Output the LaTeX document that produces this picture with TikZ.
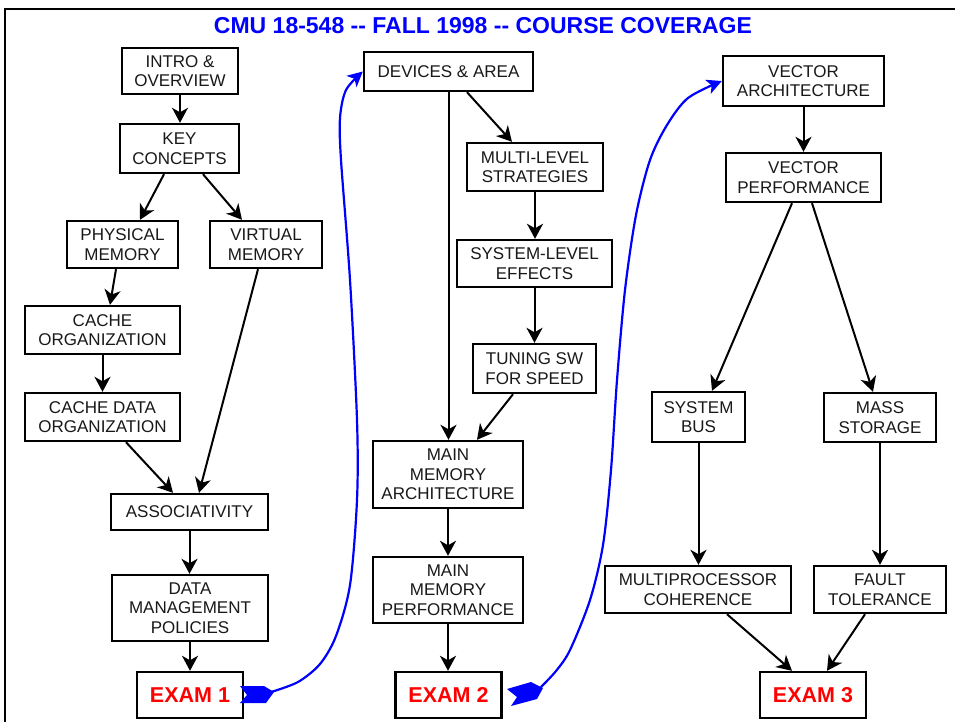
\documentclass[tikz,border=0pt]{standalone}
\usepackage{fontspec}
\setmainfont{Liberation Sans}
\usetikzlibrary{arrows.meta}
\definecolor{pblue}{RGB}{0,0,255}
\definecolor{pred}{RGB}{255,0,0}
\begin{document}
\begin{tikzpicture}[x=1pt,y=-1pt,
  box/.style={draw, line width=2.4pt, inner sep=0pt, align=center,
    font=\fontsize{17}{19.5}\selectfont, text=black!90},
  exam/.style={draw, line width=2.4pt, inner sep=0pt, minimum width=106pt,
    minimum height=46pt, font=\bfseries\fontsize{21.5}{24}\selectfont, text=pred},
  arr/.style={line width=2pt, -{Stealth[length=15pt,width=16pt,inset=4.5pt]}},
  bl/.style={pblue, line width=2.2pt, -{Stealth[length=15pt,width=15pt,inset=4pt]}},
  frame/.style={line width=2pt},
]
\useasboundingbox (0,0) rectangle (955,721);
\clip (0,0) rectangle (955,721);
\fill[white] (0,0) rectangle (955,721);
\draw[frame] (5,760) -- (5,9) -- (1000,9);

\node[font=\bfseries\fontsize{23}{26}\selectfont, text=pblue, anchor=base] (title) at (483,33)
  {CMU 18-548 -{}- FALL 1998 -{}- COURSE COVERAGE};

% left column
\node[box, minimum width=116pt, minimum height=46pt] (intro) at (180,71) {INTRO \&\\OVERVIEW};
\node[box, minimum width=119pt, minimum height=49pt] (key) at (179.5,148.5) {KEY\\CONCEPTS};
\node[box, minimum width=111pt, minimum height=47pt] (phys) at (122.5,244.5) {PHYSICAL\\MEMORY};
\node[box, minimum width=112pt, minimum height=47pt] (virt) at (266,244.5) {VIRTUAL\\MEMORY};
\node[box, minimum width=155pt, minimum height=48pt] (corg) at (102.5,330) {CACHE\\ORGANIZATION};
\node[box, minimum width=155pt, minimum height=48pt] (cdata) at (102.5,417) {CACHE DATA\\ORGANIZATION};
\node[box, minimum width=157pt, minimum height=36pt] (assoc) at (189.5,512) {ASSOCIATIVITY};
\node[box, minimum width=156pt, minimum height=66pt] (dmp) at (190,608) {DATA\\MANAGEMENT\\POLICIES};
\node[exam] (exam1) at (190,695) {EXAM 1};

% middle column
\node[box, minimum width=169pt, minimum height=39pt] (dev) at (448.5,71.5) {DEVICES \& AREA};
\node[box, minimum width=136pt, minimum height=48pt] (multi) at (535,167) {MULTI-LEVEL\\STRATEGIES};
\node[box, minimum width=155pt, minimum height=47pt] (syslev) at (534.5,263.5) {SYSTEM-LEVEL\\EFFECTS};
\node[box, minimum width=123pt, minimum height=49pt] (tune) at (534.5,368.5) {TUNING SW\\FOR SPEED};
\node[box, minimum width=150pt, minimum height=67pt] (march) at (448,474.5) {MAIN\\MEMORY\\ARCHITECTURE};
\node[box, minimum width=150pt, minimum height=66pt] (mperf) at (448,590) {MAIN\\MEMORY\\PERFORMANCE};
\node[exam] (exam2) at (448.5,695) {EXAM 2};

% right column
\node[box, minimum width=161pt, minimum height=50pt] (varch) at (803.5,81) {VECTOR\\ARCHITECTURE};
\node[box, minimum width=155pt, minimum height=49pt] (vperf) at (803.5,177.5) {VECTOR\\PERFORMANCE};
\node[box, minimum width=93pt, minimum height=50pt] (sbus) at (698.5,417) {SYSTEM\\BUS};
\node[box, minimum width=112pt, minimum height=49pt] (mass) at (880,417.5) {MASS\\STORAGE};
\node[box, minimum width=186pt, minimum height=47pt] (mproc) at (698,589.5) {MULTIPROCESSOR\\COHERENCE};
\node[box, minimum width=132pt, minimum height=47pt] (fault) at (880,589.5) {FAULT\\TOLERANCE};
\node[exam] (exam3) at (813,695) {EXAM 3};

% black connectors
\draw[arr] (intro.south) -- (intro.south |- key.north);
\draw[arr] ([xshift=-15.5pt]key.south) -- ([xshift=17.5pt]phys.north);
\draw[arr] ([xshift=23.5pt]key.south) -- ([xshift=-24pt]virt.north);
\draw[arr] ([xshift=-6.5pt]phys.south) -- ([xshift=7.5pt]corg.north);
\draw[arr] ([xshift=-8pt]virt.south) -- ([xshift=9.5pt]assoc.north);
\draw[arr] (corg.south) -- (cdata.north);
\draw[arr] ([xshift=23.5pt]cdata.south) -- ([xshift=-16.5pt]assoc.north);
\draw[arr] (assoc.south) -- (assoc.south |- dmp.north);
\draw[arr] (dmp.south) -- (dmp.south |- exam1.north);

\draw[arr] (dev.south) -- (dev.south |- march.north);
\draw[arr] ([xshift=18.5pt]dev.south) -- ([xshift=-23pt]multi.north);
\draw[arr] (multi.south) -- (multi.south |- syslev.north);
\draw[arr] (syslev.south) -- (syslev.south |- tune.north);
\draw[arr] ([xshift=-21.5pt]tune.south) -- ([xshift=29pt]march.north);
\draw[arr] (march.south) -- (mperf.north);
\draw[arr] (mperf.south) -- (mperf.south |- exam2.north);

\draw[arr] (varch.south) -- (vperf.north);
\draw[arr] ([xshift=-11.5pt]vperf.south) -- ([xshift=13.5pt]sbus.north);
\draw[arr] ([xshift=8.5pt]vperf.south) -- ([xshift=-7pt]mass.north);
\draw[arr] (sbus.south) -- (sbus.south |- mproc.north);
\draw[arr] (mass.south) -- (mass.south |- fault.north);
\draw[arr] ([xshift=29pt]mproc.south) -- ([xshift=-21pt]exam3.north);
\draw[arr] ([xshift=-15pt]fault.south) -- ([xshift=14pt]exam3.north);

% blue connectors
\coordinate (t1) at (271,692);
\coordinate (t2) at (541,687);
\draw[bl] plot[smooth, tension=0.5] coordinates {(t1) (298,682) (320,664) (336,636) (350,585) (357,500) (357,420) (350,280) (341,160) (340,118) (346,90) (dev.west)};
\draw[bl] plot[smooth, tension=0.5] coordinates {(t2) (556,671) (570,650) (590,600) (603,545) (611,470) (617,380) (625,290) (636,215) (650,160) (667,125) (688,98) (varch.west)};
% tails
\fill[pblue] (240,686) -- (264,686) -- (274,692) -- (266,703) -- (240,703) -- (247,695) -- cycle;
\fill[pblue] (507,689) -- (531,682) -- (543,688) -- (537,699) -- (511,706) -- (517,697) -- cycle;
\end{tikzpicture}
\end{document}
